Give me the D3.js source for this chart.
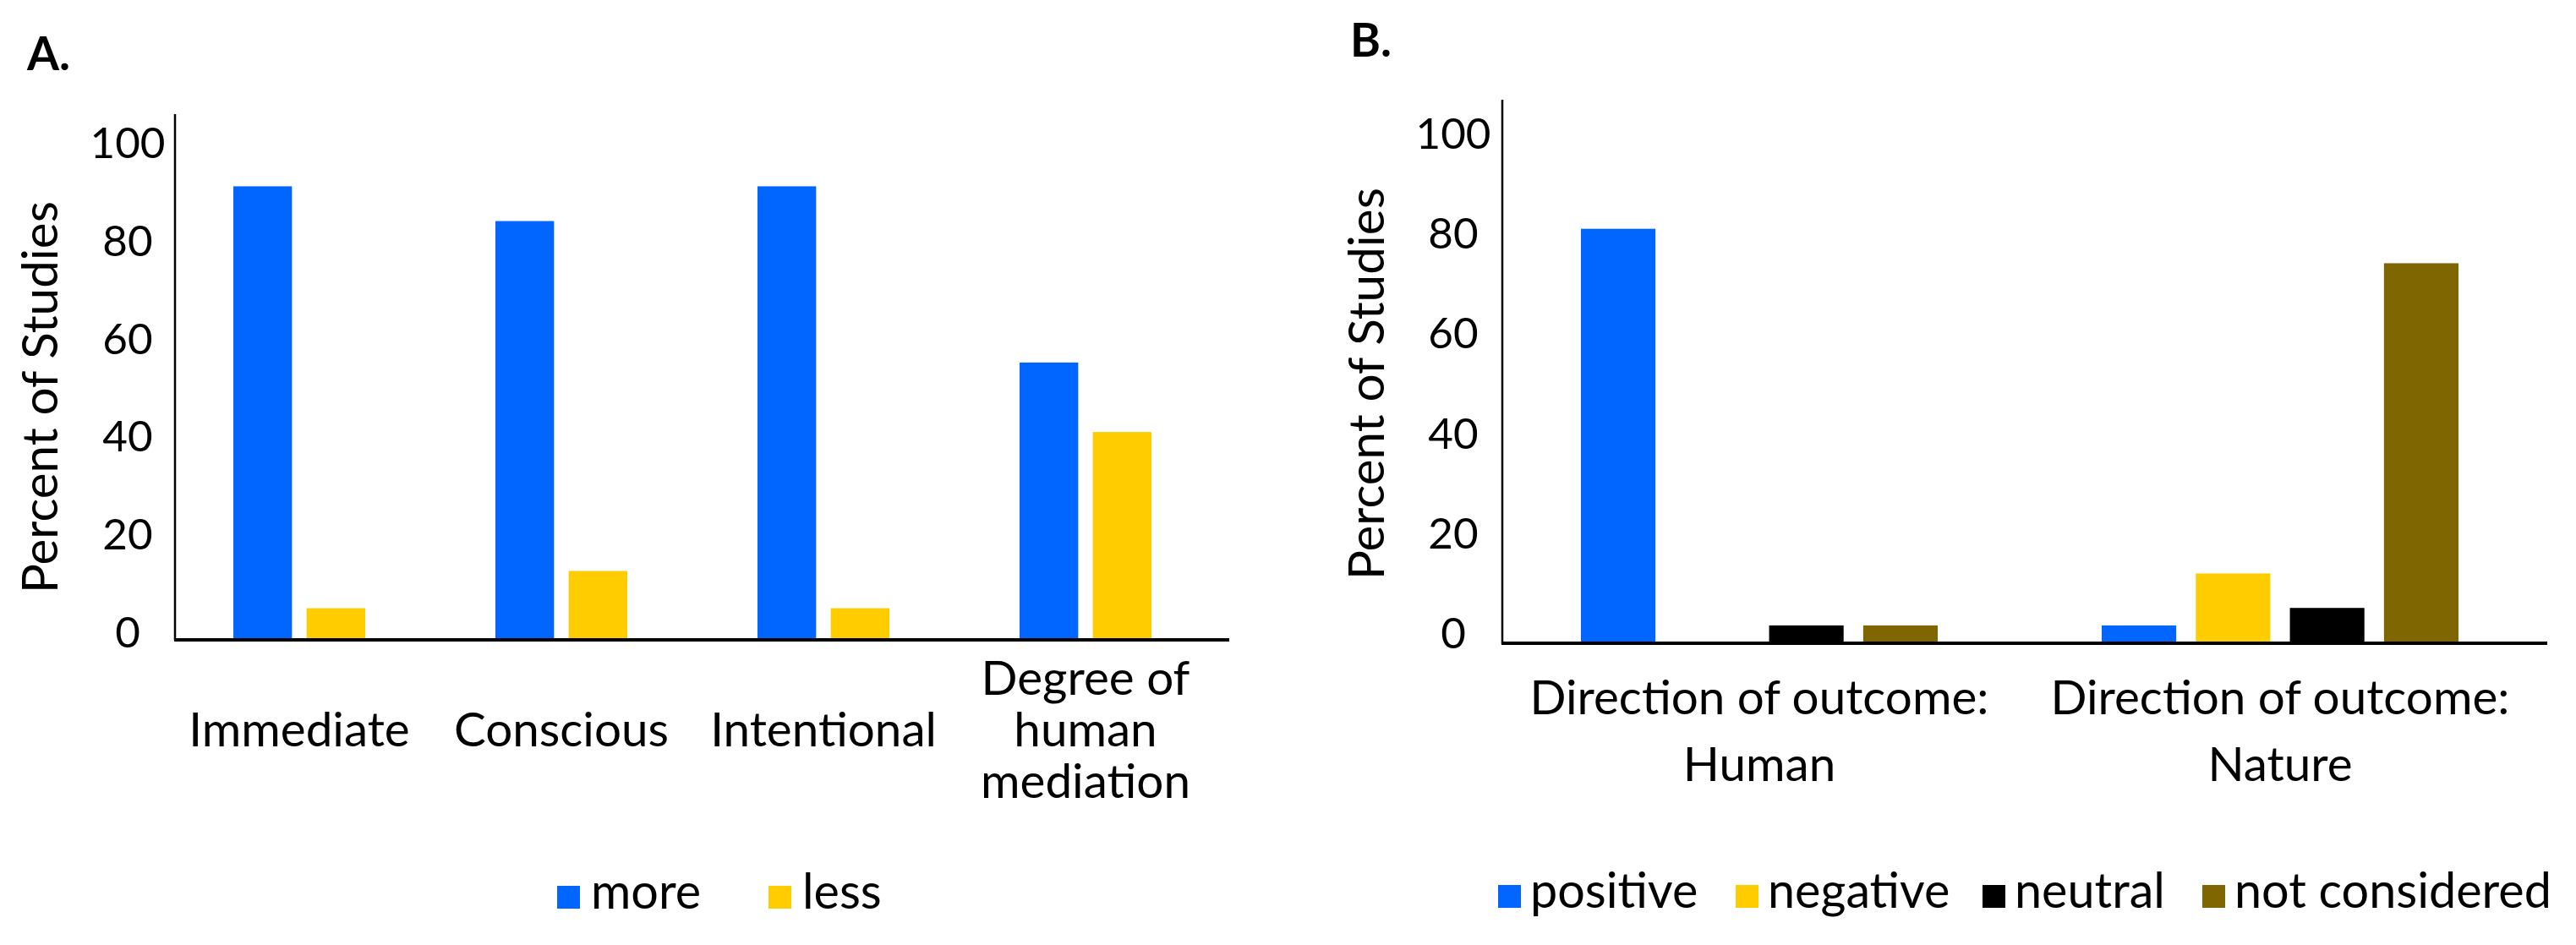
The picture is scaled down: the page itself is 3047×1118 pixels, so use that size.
<!DOCTYPE html>
<html><head><meta charset="utf-8">
<script src="https://cdn.jsdelivr.net/npm/d3@7"></script>
<style>
body{margin:0;background:#fff}
svg text{font-family:Lato,'Open Sans',sans-serif;fill:#000}
</style>
</head><body>
<svg id="c" width="3047" height="1118"></svg>
<script>
// ---------- data ----------
const categoriesA = ["Immediate", "Conscious", "Intentional", "Degree of human mediation"];
const labelLinesA = [["Immediate"], ["Conscious"], ["Intentional"], ["Degree of", "human", "mediation"]];
const seriesA = ["more", "less"];
const moreValues = [92.5, 85.4, 92.5, 56.5];
const lessValues = [6.3, 13.9, 6.3, 42.3];

const categoriesB = ["Direction of outcome: Human", "Direction of outcome: Nature"];
const labelLinesB = [["Direction of outcome:", "Human"], ["Direction of outcome:", "Nature"]];
const seriesB = ["positive", "negative", "neutral", "not considered"];
const positiveValues = [82.8, 3.4];
const negativeValues = [0, 13.8];
const neutralValues = [3.4, 6.9];
const notConsideredValues = [3.4, 75.9];

const yTicks = [0, 20, 40, 60, 80, 100];
const yTitle = "Percent of Studies";

// ---------- styles ----------
const colorsA = ["#0066FF", "#FFCC00"];
const colorsB = ["#0066FF", "#FFCC00", "#000000", "#7F6600"];

const svg = d3.select("#c");

function fit(str, target, weight) {
  const t = svg.append("text").attr("font-size", 100).attr("font-weight", weight || 400).text(str);
  const w = t.node().getComputedTextLength();
  t.remove();
  return 100 * target / w;
}
const fsTick = fit("100", 89);
const fsCat = fit("Direction of outcome:", 543);
const fsTitle = fit(yTitle, 464);
const fsLeg = fit("not considered", 375);
const fsPanel = fit("A.", 51, 700);

function panel(cfg) {
  const g = svg.append("g");
  const y = d3.scaleLinear().domain([0, 100]).range([cfg.y0, cfg.y100]);
  const x0 = d3.scaleBand().domain(cfg.categories).range(cfg.xRange);
  const x1 = d3.scaleBand().domain(cfg.series).range([-cfg.groupHalf, cfg.groupHalf]).paddingInner(cfg.innerPad);

  // bars
  cfg.series.forEach((s, si) => {
    g.append("g").selectAll("rect")
      .data(cfg.categories.map((c, ci) => ({ c, v: cfg.values[si][ci] })))
      .join("rect")
      .attr("x", d => x0(d.c) + x0.bandwidth() / 2 + x1(s))
      .attr("width", x1.bandwidth())
      .attr("y", d => y(d.v))
      .attr("height", d => y(0) - y(d.v))
      .attr("fill", cfg.colors[si]);
  });

  // y axis line
  g.append("line")
    .attr("x1", cfg.axisX).attr("x2", cfg.axisX)
    .attr("y1", cfg.axisTop).attr("y2", y(0) + 2)
    .attr("stroke", "#000").attr("stroke-width", 2.5);
  // x axis line
  g.append("line")
    .attr("x1", cfg.axisX - 1).attr("x2", cfg.axisEnd)
    .attr("y1", y(0) + 1).attr("y2", y(0) + 1)
    .attr("stroke", "#000").attr("stroke-width", 4);

  // y tick labels
  const ya = g.append("g")
    .attr("transform", `translate(${cfg.tickX},${cfg.tickDy})`)
    .call(d3.axisLeft(y).tickValues(yTicks).tickSize(0).tickPadding(0));
  ya.attr("font-family", null).attr("font-size", fsTick);
  ya.select(".domain").remove();
  ya.selectAll("text").attr("text-anchor", "middle").attr("x", 0).attr("dy", "0.36em");

  // category labels
  const xa = g.append("g")
    .call(d3.axisBottom(x0).tickSize(0).tickPadding(0));
  xa.attr("font-family", null).attr("font-size", fsCat);
  xa.select(".domain").remove();
  xa.selectAll(".tick text").each(function (d, i) {
    const lines = cfg.labelLines[i];
    const t = d3.select(this).attr("y", null).attr("dy", null).text(null).attr("text-anchor", "middle");
    lines.forEach((ln, li) => {
      t.append("tspan").attr("x", 0)
        .attr("y", cfg.labelMid + (li - (lines.length - 1) / 2) * cfg.lineH)
        .text(ln);
    });
  });

  // y title
  g.append("text")
    .attr("transform", `translate(${cfg.titleX},${cfg.titleY}) rotate(-90)`)
    .attr("text-anchor", "middle")
    .attr("font-size", fsTitle)
    .text(yTitle);

  // panel letter
  g.append("text")
    .attr("x", cfg.letterX).attr("y", cfg.letterY)
    .attr("font-size", fsPanel).attr("font-weight", 700)
    .text(cfg.letter);

  // legend
  const lg = g.append("g");
  cfg.series.forEach((s, si) => {
    lg.append("rect")
      .attr("x", cfg.legendX[si]).attr("y", cfg.legendY - 27)
      .attr("width", 27).attr("height", 27)
      .attr("fill", cfg.colors[si]);
    lg.append("text")
      .attr("x", cfg.legendX[si] + cfg.legendGap).attr("y", cfg.legendY)
      .attr("font-size", fsLeg)
      .text(s);
  });
}

panel({
  categories: categoriesA, labelLines: labelLinesA, series: seriesA,
  values: [moreValues, lessValues], colors: colorsA,
  y0: 756, y100: 177, xRange: [199, 1439], groupHalf: 78, innerPad: 0.2,
  axisX: 207, axisTop: 135, axisEnd: 1454,
  tickX: 151, tickDy: -9,
  labelMid: 883, lineH: 61,
  titleX: 68, titleY: 470,
  letter: "A.", letterX: 32, letterY: 83,
  legendX: [659, 909], legendY: 1075, legendGap: 40
});

panel({
  categories: categoriesB, labelLines: labelLinesB, series: seriesB,
  values: [positiveValues, negativeValues, neutralValues, notConsideredValues], colors: colorsB,
  y0: 760, y100: 169, xRange: [1773, 3005], groupHalf: 211, innerPad: 0.208,
  axisX: 1777, axisTop: 118, axisEnd: 3013,
  tickX: 1719, tickDy: -12,
  labelMid: 884.5, lineH: 79,
  titleX: 1637, titleY: 454,
  letter: "B.", letterX: 1597, letterY: 67,
  legendX: [1772, 2053, 2345, 2605], legendY: 1074, legendGap: 38
});
</script>
</body></html>
